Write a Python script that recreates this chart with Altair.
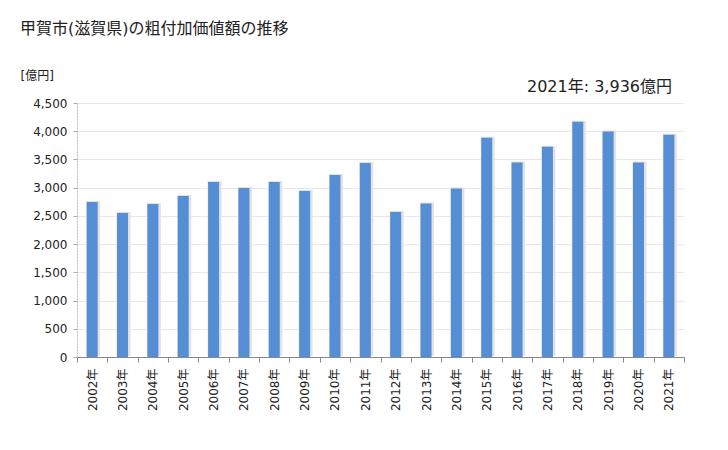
import altair as alt
import pandas as pd

years = [f"{y}年" for y in range(2002, 2022)]
values = [2746, 2551, 2711, 2852, 3100, 2994, 3100, 2941, 3224, 3437,
          2569, 2719, 2984, 3886, 3444, 3727, 4169, 3993, 3444, 3936]

df = pd.DataFrame({"year": years, "value": values})
FONT = "DejaVu Sans, Noto Sans CJK JP"

x = alt.X("year:N", sort=None, title=None,
          scale=alt.Scale(paddingInner=0, paddingOuter=0),
          axis=alt.Axis(labelAngle=-90, labelAlign="right", labelBaseline="middle",
                        labelFontSize=12, labelColor="#222", labelPadding=6,
                        tickBand="extent", tickColor="#888", tickSize=5,
                        domainColor="#888", labelFont=FONT))
y = alt.Y("value:Q", title="[億円]",
          scale=alt.Scale(domain=[0, 4500]),
          axis=alt.Axis(values=list(range(0, 4501, 500)), format=",.0f",
                        labelFontSize=12, labelColor="#222", labelFont=FONT,
                        labelPadding=6,
                        gridColor="#e8e8e8", tickColor="#aaa", tickSize=4,
                        domainColor="#bbb", domainDash=[2, 1],
                        titleAngle=0, titleAlign="left", titleBaseline="middle",
                        titleX=-57, titleY=-28, titleFontSize=12,
                        titleFontWeight="normal", titleColor="#222", titleFont=FONT))

shadow = alt.Chart(df).mark_bar(size=14, color="#e2e2e2", xOffset=1, yOffset=-1).encode(x=x, y=y)
bars = alt.Chart(df).mark_bar(size=11, color="#558ED5").encode(x=x, y=y)

note = alt.Chart(pd.DataFrame({"t": ["2021年: 3,936億円"]})).mark_text(
    align="right", baseline="middle", fontSize=16, font=FONT, color="#222"
).encode(x=alt.value(595), y=alt.value(-16), text="t:N")

chart = alt.layer(shadow, bars, note).properties(
    width=607, height=254,
    title=alt.TitleParams("甲賀市(滋賀県)の粗付加価値額の推移", anchor="start",
                          offset=32, fontSize=16, fontWeight="normal",
                          font=FONT, color="#222"),
    autosize=alt.AutoSizeParams(type="none"),
    padding={"left": 69, "top": 95, "right": 30, "bottom": 70},
).configure_view(stroke=None)

chart.save("out.html", embed_options={"renderer": "svg", "actions": False})
